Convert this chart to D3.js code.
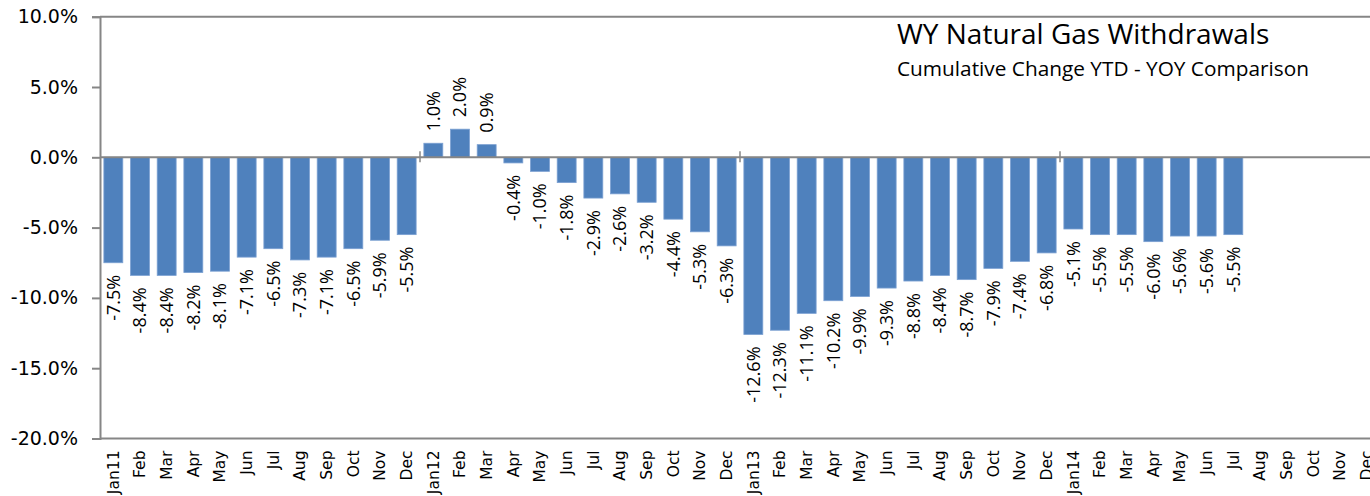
<!DOCTYPE html>
<html>
<head>
<meta charset="utf-8">
<script src="https://cdn.jsdelivr.net/npm/d3@7"></script>
<style>
  body { margin: 0; background: #fff; }
  #viz1 { width: 1370px; height: 496px; overflow: hidden; }
</style>
</head>
<body>
<div id="viz1"></div>
<script>
// categories - month labels (Jan11 .. Dec14)
var months = ['Jan11','Feb','Mar','Apr','May','Jun','Jul','Aug','Sep','Oct','Nov','Dec',
              'Jan12','Feb','Mar','Apr','May','Jun','Jul','Aug','Sep','Oct','Nov','Dec',
              'Jan13','Feb','Mar','Apr','May','Jun','Jul','Aug','Sep','Oct','Nov','Dec',
              'Jan14','Feb','Mar','Apr','May','Jun','Jul','Aug','Sep','Oct','Nov','Dec'];

// cumulative change YTD, percent
var values = [-7.5, -8.4, -8.4, -8.2, -8.1, -7.1, -6.5, -7.3, -7.1, -6.5, -5.9, -5.5,
               1.0,  2.0,  0.9, -0.4, -1.0, -1.8, -2.9, -2.6, -3.2, -4.4, -5.3, -6.3,
             -12.6, -12.3, -11.1, -10.2, -9.9, -9.3, -8.8, -8.4, -8.7, -7.9, -7.4, -6.8,
              -5.1, -5.5, -5.5, -6.0, -5.6, -5.6, -5.5, null, null, null, null, null];

var yTicks = [10, 5, 0, -5, -10, -15, -20];
var yearStarts = [12, 24, 36];

var data = months.map(function(m, i) { return {i: i, month: m, value: values[i]}; });

// percent with plain hyphen minus like excel
var pct = function(v) { return d3.format('.1f')(v).replace('\u2212', '-') + '%'; };

var svg = d3.select('#viz1')
  .append('svg')
  .attr('width', 1370)
  .attr('height', 496);

var mLeft = 100, mRight = 1380, mTop = 16.7, mBottom = 438.5;
var axisColor = '#868686';

var x = d3.scaleBand()
  .domain(d3.range(months.length))
  .range([mLeft, mRight])
  .paddingInner(0.29)
  .paddingOuter(0.145);

// index scale for the year boundary ticks
var xi = d3.scaleLinear().domain([0, months.length]).range([mLeft, mRight]);

var y = d3.scaleLinear().domain([-20, 10]).range([mBottom, mTop]);

// top and bottom border of plot
[10, -20].forEach(function(v) {
  svg.append('line')
    .attr('x1', mLeft).attr('x2', mRight)
    .attr('y1', y(v)).attr('y2', y(v))
    .attr('stroke', axisColor).attr('stroke-width', 2);
});

// bars
svg.append('g')
  .selectAll('rect')
  .data(data.filter(function(d) { return d.value !== null; }))
  .join('rect')
  .attr('x', function(d) { return x(d.i); })
  .attr('width', x.bandwidth())
  .attr('y', function(d) { return y(Math.max(0, d.value)); })
  .attr('height', function(d) { return Math.abs(y(d.value) - y(0)); })
  .attr('fill', '#4f81bd')
  .attr('stroke', '#7ba0d2')
  .attr('stroke-width', 0.8);

// zero line + year ticks
svg.append('line')
  .attr('x1', mLeft).attr('x2', mRight)
  .attr('y1', y(0)).attr('y2', y(0))
  .attr('stroke', axisColor).attr('stroke-width', 2);

svg.append('g')
  .selectAll('line')
  .data(yearStarts)
  .join('line')
  .attr('x1', function(d) { return xi(d); })
  .attr('x2', function(d) { return xi(d); })
  .attr('y1', y(0) - 6)
  .attr('y2', y(0) + 5)
  .attr('stroke', axisColor)
  .attr('stroke-width', 1.5);

// y axis
var yAxis = svg.append('g')
  .attr('transform', 'translate(' + mLeft + ',0)')
  .call(d3.axisLeft(y)
    .tickValues(yTicks)
    .tickSize(8)
    .tickPadding(14)
    .tickFormat(pct));

yAxis.select('.domain').attr('stroke', axisColor).attr('stroke-width', 2);
yAxis.selectAll('.tick line').attr('stroke', axisColor).attr('stroke-width', 2);
yAxis.selectAll('.tick text')
  .attr('font-family', 'DejaVu Sans')
  .attr('font-size', '19px')
  .attr('fill', '#000');

// x labels (rotated)
svg.append('g')
  .selectAll('text')
  .data(data)
  .join('text')
  .attr('transform', function(d) {
    return 'translate(' + (x(d.i) + x.bandwidth() / 2) + ',' + (mBottom + 12) + ') rotate(-90)';
  })
  .attr('text-anchor', 'end')
  .attr('dy', '0.35em')
  .attr('font-family', 'DejaVu Sans')
  .attr('font-size', '15.5px')
  .attr('fill', '#000')
  .text(function(d) { return d.month; });

// value labels
svg.append('g')
  .selectAll('text')
  .data(data.filter(function(d) { return d.value !== null; }))
  .join('text')
  .attr('transform', function(d) {
    var yy = d.value >= 0 ? y(d.value) - 12 : y(d.value) + 12;
    return 'translate(' + (x(d.i) + x.bandwidth() / 2) + ',' + yy + ') rotate(-90)';
  })
  .attr('text-anchor', function(d) { return d.value >= 0 ? 'start' : 'end'; })
  .attr('dy', '0.35em')
  .attr('font-family', 'Open Sans')
  .attr('font-size', '18px')
  .attr('fill', '#000')
  .text(function(d) { return pct(d.value); });

// title
svg.append('text')
  .attr('x', 897).attr('y', 44)
  .attr('font-family', 'Open Sans')
  .attr('font-size', '28px')
  .attr('fill', '#000')
  .text('WY Natural Gas Withdrawals');

svg.append('text')
  .attr('x', 897).attr('y', 76)
  .attr('font-family', 'Open Sans')
  .attr('font-size', '20.8px')
  .attr('fill', '#000')
  .text('Cumulative Change YTD - YOY Comparison');
</script>
</body>
</html>
